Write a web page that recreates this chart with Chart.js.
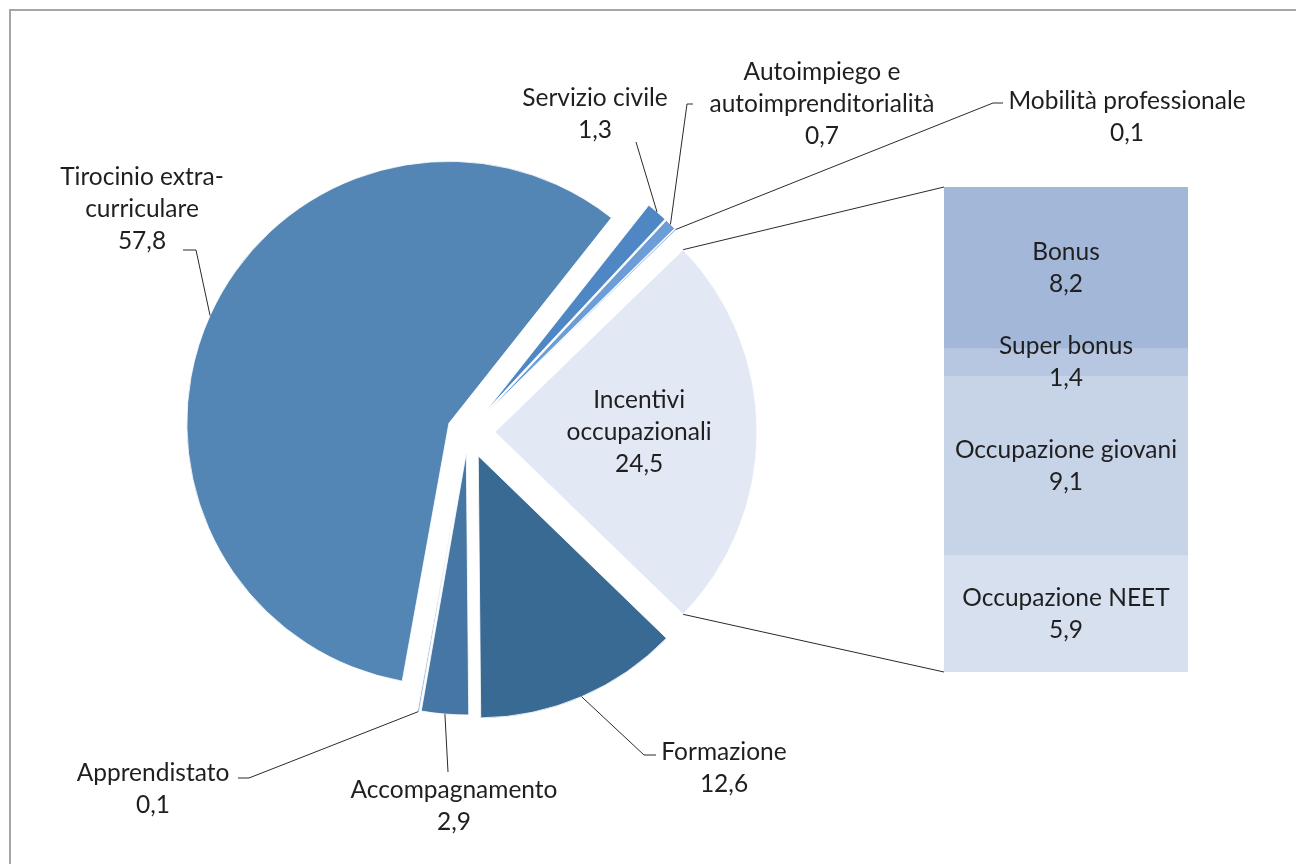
<!DOCTYPE html>
<html>
<head>
<meta charset="utf-8">
<script src="https://cdn.jsdelivr.net/npm/chart.js@4"></script>
<style>
  body { margin: 0; background: #fff; }
  #wrap { position: relative; width: 1296px; height: 864px; overflow: hidden; }
  canvas { position: absolute; left: 0; top: 0; }
  #frame { position: absolute; left: 9px; top: 9px; width: 1400px; height: 1000px; border: 2px solid #a5a5a5; }
</style>
</head>
<body>
<div id="wrap">
  <div id="frame"></div>
  <canvas id="pie" width="1296" height="864"></canvas>
  <canvas id="bar" width="1296" height="864"></canvas>
</div>
<script>
// pie slices, clockwise starting from the "other" slice
const sliceLabels = ['Incentivi occupazionali', 'Formazione', 'Accompagnamento', 'Apprendistato',
  'Tirocinio extra-curriculare', 'Servizio civile', 'Autoimpiego e autoimprenditorialità', 'Mobilità professionale'];
const sliceValues = [24.5, 12.6, 2.9, 0.1, 57.8, 1.3, 0.7, 0.1];

// breakdown of "Incentivi occupazionali" (bottom to top)
const barLabels = ['Occupazione NEET', 'Occupazione giovani', 'Super bonus', 'Bonus'];
const barValues = [5.9, 9.1, 1.4, 8.2];

// styling / layout
const sliceColors = ['#e3e9f4', '#386a93', '#4676a4', '#86a9d2', '#5385b5', '#4f87c4', '#6c9dd6', '#9dbde3'];
const barColors = ['#d6e0ee', '#c7d3e7', '#b7c6e1', '#a3b7d9'];
const explodePx = [27, 26, 21, 22, 21, 28, 28, 28];
const textLines = [
  ['Incentivi', 'occupazionali'], ['Formazione'], ['Accompagnamento'], ['Apprendistato'],
  ['Tirocinio extra-', 'curriculare'], ['Servizio civile'], ['Autoimpiego e', 'autoimprenditorialità'], ['Mobilità professionale']
];
// label block position (centre x, middle of first line) and leader points near label
const labelPos = [null, [724, 752], [454, 790], [153, 773], [142, 177], [595, 98], [822, 72], [1127, 101]];
const leaderPts = [null, [[656, 755], [644, 755]], [[448, 772]], [[238, 778], [249, 778]],
  [[183, 250], [196, 250]], [[636, 142]], [[693, 104], [687, 104]], [[1003, 103], [993, 103]]];

const FONT = '24.5px Lato, "Open Sans", sans-serif';
const LINE_H = 32;
const TEXT_COLOR = '#1f1f1f';
const fmt = v => v.toFixed(1).replace('.', ',');

function drawBlock(ctx, x, y, lines) {
  ctx.save();
  ctx.font = FONT;
  ctx.fillStyle = TEXT_COLOR;
  ctx.textAlign = 'center';
  ctx.textBaseline = 'middle';
  lines.forEach((t, k) => ctx.fillText(t, x, y + k * LINE_H));
  ctx.restore();
}

const barLabelPlugin = {
  id: 'barLabels',
  afterDatasetsDraw(chart) {
    chart.data.datasets.forEach((ds, i) => {
      const el = chart.getDatasetMeta(i).data[0];
      const cy = (el.y + el.base) / 2;
      drawBlock(chart.ctx, el.x, cy - LINE_H / 2, [ds.label, fmt(ds.data[0])]);
    });
  }
};

const barTotal = barValues.reduce((a, b) => a + b, 0);
const barChart = new Chart(document.getElementById('bar'), {
  type: 'bar',
  data: {
    labels: [''],
    datasets: barLabels.map((l, i) => ({
      label: l,
      data: [barValues[i]],
      backgroundColor: barColors[i],
      borderWidth: 0,
      barPercentage: 1,
      categoryPercentage: 1
    }))
  },
  options: {
    responsive: false,
    animation: false,
    events: [],
    layout: { padding: { left: 944, right: 108, top: 187, bottom: 192 } },
    scales: {
      x: { display: false, stacked: true },
      y: { display: false, stacked: true, min: 0, max: barTotal }
    },
    plugins: { legend: { display: false }, tooltip: { enabled: false } }
  },
  plugins: [barLabelPlugin]
});

// draw each slice pushed out along its bisector
const explodePlugin = {
  id: 'explode',
  beforeDatasetDraw(chart, args) {
    const ctx = chart.ctx;
    args.meta.data.forEach((arc, i) => {
      const mid = (arc.startAngle + arc.endAngle) / 2;
      ctx.save();
      ctx.translate(Math.cos(mid) * explodePx[i], Math.sin(mid) * explodePx[i]);
      arc.draw(ctx);
      ctx.restore();
    });
    return false;
  }
};

const pieLabelPlugin = {
  id: 'pieLabels',
  afterDatasetsDraw(chart) {
    const ctx = chart.ctx;
    const arcs = chart.getDatasetMeta(0).data;
    ctx.save();
    ctx.strokeStyle = '#2a2a2a';
    ctx.lineWidth = 1;
    arcs.forEach((arc, i) => {
      const mid = (arc.startAngle + arc.endAngle) / 2;
      const R = arc.outerRadius;
      const cx = arc.x + Math.cos(mid) * explodePx[i];
      const cy = arc.y + Math.sin(mid) * explodePx[i];
      if (i === 0) {
        // label inside the slice
        const lx = cx + Math.cos(mid) * R * 0.55;
        const ly = cy + Math.sin(mid) * R * 0.55;
        drawBlock(ctx, lx, ly - LINE_H, textLines[0].concat(fmt(sliceValues[0])));
        // connectors to the bar
        const top = barChart.getDatasetMeta(barLabels.length - 1).data[0];
        const bot = barChart.getDatasetMeta(0).data[0];
        ctx.beginPath();
        ctx.moveTo(cx + Math.cos(arc.startAngle) * R, cy + Math.sin(arc.startAngle) * R);
        ctx.lineTo(top.x - top.width / 2, top.y);
        ctx.moveTo(cx + Math.cos(arc.endAngle) * R, cy + Math.sin(arc.endAngle) * R);
        ctx.lineTo(bot.x - bot.width / 2, bot.base);
        ctx.stroke();
        return;
      }
      const pts = leaderPts[i];
      ctx.beginPath();
      ctx.moveTo(pts[0][0], pts[0][1]);
      pts.slice(1).forEach(p => ctx.lineTo(p[0], p[1]));
      ctx.lineTo(cx + Math.cos(mid) * R, cy + Math.sin(mid) * R);
      ctx.stroke();
      drawBlock(ctx, labelPos[i][0], labelPos[i][1], textLines[i].concat(fmt(sliceValues[i])));
    });
    ctx.restore();
  }
};

const pieTotal = sliceValues.reduce((a, b) => a + b, 0);
new Chart(document.getElementById('pie'), {
  type: 'pie',
  data: {
    labels: sliceLabels,
    datasets: [{
      data: sliceValues,
      backgroundColor: sliceColors,
      borderColor: '#ffffff',
      borderWidth: 0.8
    }]
  },
  options: {
    responsive: false,
    animation: false,
    events: [],
    radius: 262,
    rotation: 90 - sliceValues[0] / pieTotal * 180,
    layout: { padding: { left: 0, right: 360, top: 0, bottom: 0 } },
    plugins: { legend: { display: false }, tooltip: { enabled: false } }
  },
  plugins: [explodePlugin, pieLabelPlugin]
});
</script>
</body>
</html>
